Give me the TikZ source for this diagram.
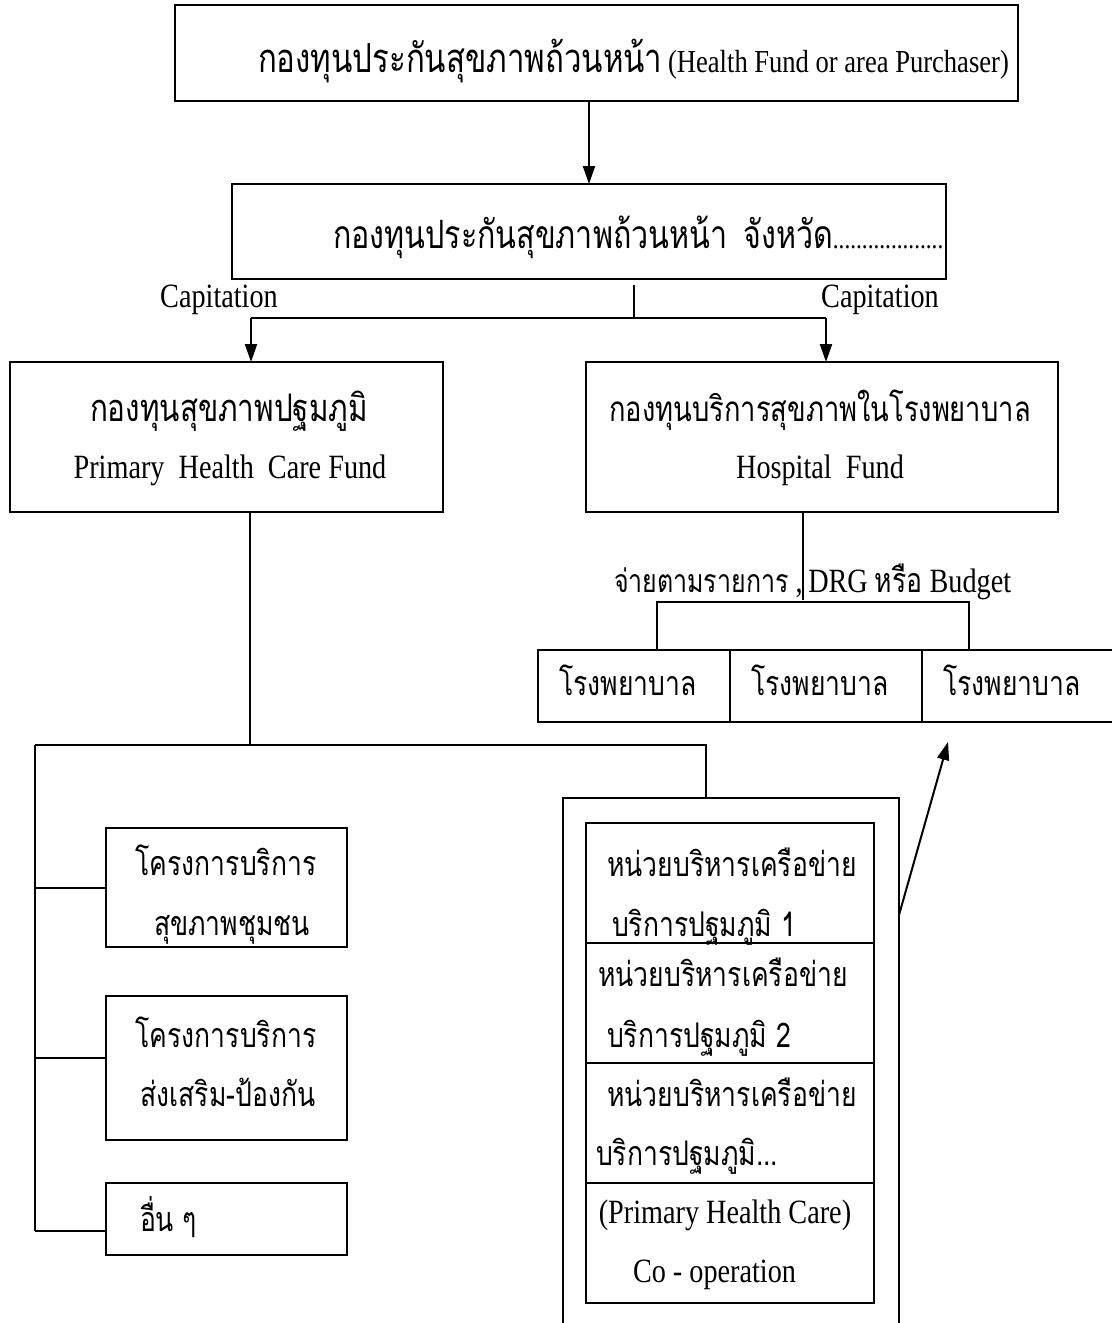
\documentclass[tikz,border=0pt]{standalone}
\usepackage{fontspec}
\setmainfont[FakeStretch=0.83]{Liberation Serif}
\newfontfamily\thai[Script=Thai,FakeStretch=0.78]{Loma}
\usetikzlibrary{arrows.meta}
\tikzset{
  box/.style={draw, line width=1pt, inner sep=0pt, outer sep=0pt},
  txt/.style={inner sep=0pt, outer sep=0pt, anchor=base},
  txtw/.style={inner sep=0pt, outer sep=0pt, anchor=base west},
  conn/.style={line width=1pt},
  arr/.style={line width=1pt, -{Triangle[length=9pt,width=6pt]}},
}
\newcommand{\bigth}{\fontsize{20}{22}\selectfont}
\begin{document}
\begin{tikzpicture}[x=0.5pt,y=-0.5pt, every node/.style={font=\fontsize{17}{20}\selectfont}]
\useasboundingbox (0,0) rectangle (1112,1323);
% boxes
\node[box, minimum width=421.5pt, minimum height=48pt] (top) at (596.5,53) {};
\node[txtw] (toptext) at (258,72) {{\thai\bigth กองทุนประกันสุขภาพถ้วนหน้า}\,{\fontsize{16}{18}\selectfont(Health Fund or area Purchaser)}};
\node[box, minimum width=357pt, minimum height=47.5pt] (second) at (589,231.5) {};
\node[txtw] (sectext) at (333,248) {{\thai\fontsize{19.5}{22}\selectfont กองทุนประกันสุขภาพถ้วนหน้า\hspace{8pt}จังหวัด}{\fontsize{14}{16}\selectfont ...................}};
\node[txt] (capl) at (219,307) {Capitation};
\node[txt] (capr) at (880,307) {Capitation};
% funds
\node[box, minimum width=216.5pt, minimum height=75pt] (fund) at (226.5,437) {};
\node[txt] (fundth) at (229,421) {\thai\fontsize{19}{22}\selectfont กองทุนสุขภาพปฐมภูมิ};
\node[txt] (funden) at (230,478) {Primary\ \ Health\ \ Care Fund};
\node[box, minimum width=236pt, minimum height=75pt] (hosp) at (822,437) {};
\node[txt] (hospth) at (820,421) {\thai\fontsize{17.5}{20}\selectfont กองทุนบริการสุขภาพในโรงพยาบาล};
\node[txt] (hospen) at (820,478) {Hospital\ \ Fund};
\node[txtw] (pay) at (614,592) {{\thai\fontsize{16}{19}\selectfont จ่ายตามรายการ} ,\,DRG {\thai หรือ} Budget};
% hospitals
\node[box, minimum width=96pt, minimum height=36pt] (h1) at (634,686) {};
\node[box, minimum width=96pt, minimum height=36pt] (h2) at (826,686) {};
\node[box, minimum width=96pt, minimum height=36pt] (h3) at (1018,686) {};
\node[txt] (h1t) at (628,695) {\thai โรงพยาบาล};
\node[txt] (h2t) at (820,695) {\thai โรงพยาบาล};
\node[txt] (h3t) at (1012,695) {\thai โรงพยาบาล};
% left programme boxes
\node[box, minimum width=120.5pt, minimum height=59.5pt] (b1) at (226.5,887) {};
\node[txt] (b1a) at (226,875) {\thai โครงการบริการ};
\node[txt] (b1b) at (232,935) {\thai สุขภาพชุมชน};
\node[box, minimum width=120.5pt, minimum height=72pt] (b2) at (226.5,1068) {};
\node[txt] (b2a) at (226,1047) {\thai โครงการบริการ};
\node[txt] (b2b) at (228,1106) {\thai ส่งเสริม-ป้องกัน};
\node[box, minimum width=120.5pt, minimum height=36pt] (b3) at (226.5,1219) {};
\node[txtw] (b3a) at (140,1231) {\thai อื่น ๆ};
% outer container and network units
\node[box, minimum width=168pt, minimum height=280pt] (outer) at (563,798) [anchor=north west] {};
\node[box, minimum width=144pt, minimum height=60pt, anchor=north west] (r1) at (586,823) {};
\node[box, minimum width=144pt, minimum height=60pt, anchor=north west] (r2) at (586,943) {};
\node[box, minimum width=144pt, minimum height=60pt, anchor=north west] (r3) at (586,1063) {};
\node[box, minimum width=144pt, minimum height=60pt, anchor=north west] (r4) at (586,1183) {};
\node[txt] (r1a) at (732,876) {\thai หน่วยบริหารเครือข่าย};
\node[txtw] (r1b) at (612,936) {\thai บริการปฐมภูมิ 1};
\node[txt] (r2a) at (723,986) {\thai หน่วยบริหารเครือข่าย};
\node[txtw] (r2b) at (607,1047) {\thai บริการปฐมภูมิ 2};
\node[txt] (r3a) at (732,1106) {\thai หน่วยบริหารเครือข่าย};
\node[txtw] (r3b) at (596,1165) {\thai บริการปฐมภูมิ...};
\node[txt] (r4a) at (725,1223) {(Primary Health Care)};
\node[txtw] (r4b) at (633,1282) {Co - operation};
% connectors
\draw[arr] (top.south -| second.north) -- (second.north);
\coordinate (split) at (634,318);
\coordinate (jl) at (251,318);
\coordinate (jr) at (826,318);
\draw[conn] (634,285) -- (split);
\draw[conn] (jl) -- (jr);
\draw[arr] (jl) -- (jl |- fund.north);
\draw[arr] (jr) -- (jr |- hosp.north);
\coordinate (hb) at (803,600);
\draw[conn] (hb |- hosp.south) -- (hb);
\coordinate (bl) at (657,602);
\coordinate (br) at (969,602);
\draw[conn] (bl |- h1.north) -- (bl) -- (br) -- (br |- h3.north);
\coordinate (fj) at (250,745);
\coordinate (lt) at (35,745);
\coordinate (rt) at (706,745);
\draw[conn] (fj |- fund.south) -- (fj);
\draw[conn] (lt) -- (rt) -- (rt |- outer.north);
\draw[conn] (35,1231) -- (lt);
\draw[conn] (35,888) -- (35,888 -| b1.west);
\draw[conn] (35,1058) -- (35,1058 -| b2.west);
\draw[conn] (35,1231) -- (35,1231 -| b3.west);
\coordinate (arrtip) at (948,742);
\draw[arr] ([yshift=-58.5pt]outer.north east) -- (arrtip);
\end{tikzpicture}
\end{document}
